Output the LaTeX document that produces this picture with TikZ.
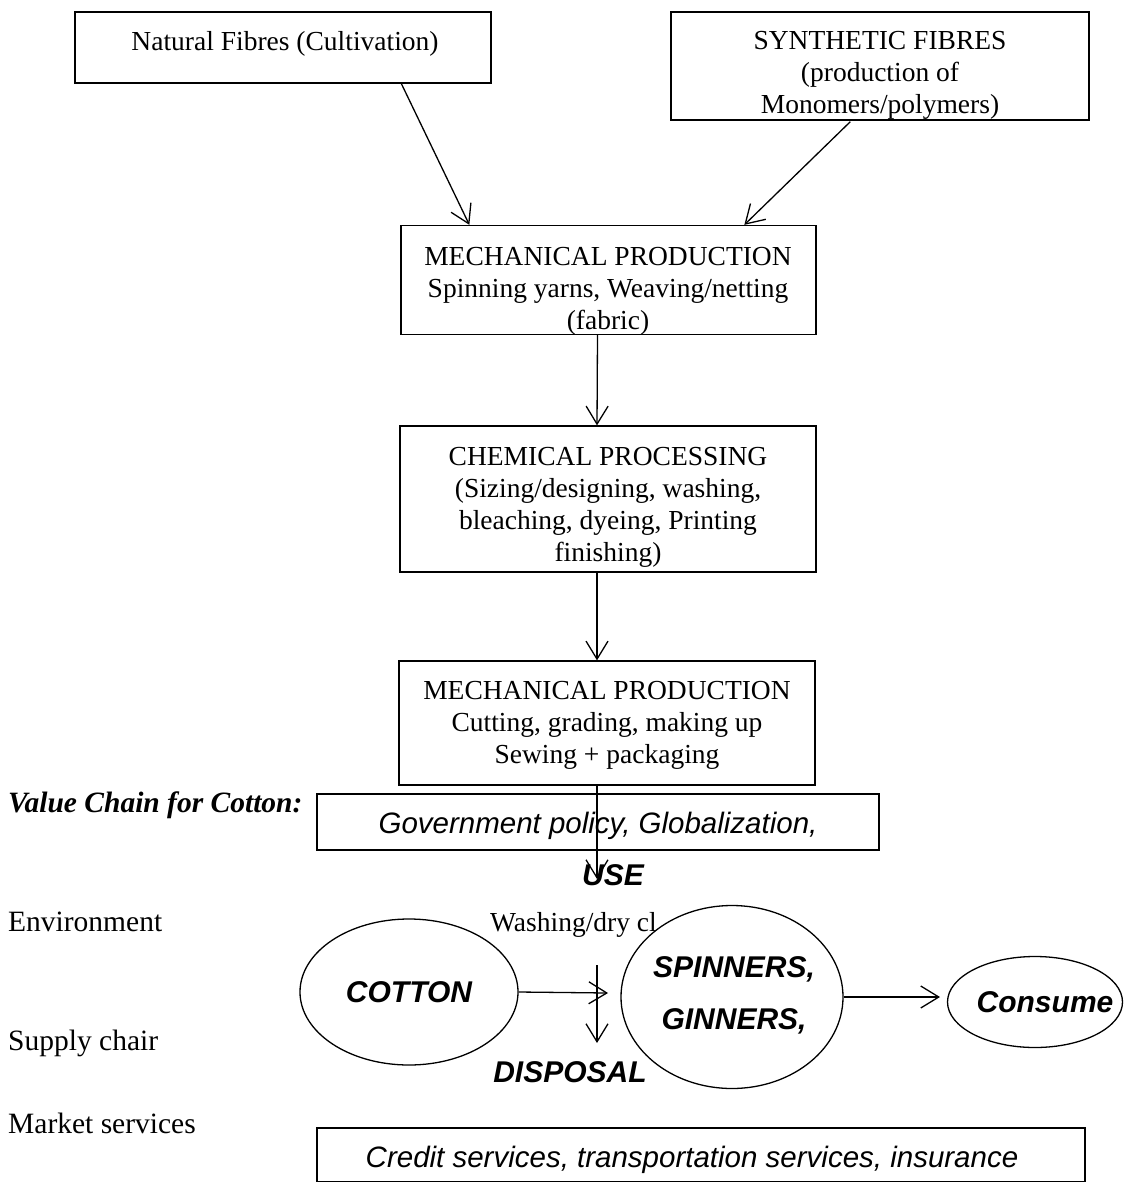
\documentclass[tikz,border=0pt]{standalone}
\usepackage{fontspec}
\setmainfont{Liberation Serif}
\setsansfont{Liberation Sans}
\usetikzlibrary{arrows.meta,calc,shapes.geometric}
\tikzset{
  box/.style={draw, line width=1.3pt, inner sep=0pt},
  txt/.style={inner sep=0pt, align=center, font=\fontsize{27.5}{32}\selectfont},
  oval/.style={draw, ellipse, line width=1.3pt, inner sep=0pt, fill=white},
  otxt/.style={inner sep=0pt, align=center, font=\sffamily\bfseries\itshape\fontsize{30}{36}\selectfont},
  arr/.style={line width=1.3pt, -{Straight Barb[length=18pt,width=22pt,line width=1.3pt]}},
  lbl/.style={inner sep=0pt, anchor=west, font=\fontsize{29.5}{32}\selectfont},
  stxt/.style={inner sep=0pt, font=\sffamily\itshape\fontsize{29.5}{32}\selectfont},
  bsi/.style={inner sep=0pt, font=\sffamily\bfseries\itshape\fontsize{30}{32}\selectfont}
}
\begin{document}
\begin{tikzpicture}[x=1pt,y=-1pt]
\useasboundingbox (0,0) rectangle (1132,1182);
% top boxes
\node[box, minimum width=416pt, minimum height=71pt] (nat) at (283,47.5) {};
\node[txt] (natt) at (285,44) {Natural Fibres (Cultivation)};
\node[box, minimum width=418pt, minimum height=108pt] (syn) at (880,66) {};
\node[txt] (synt) at (880,75) {SYNTHETIC FIBRES\\(production of\\Monomers/polymers)};
\node[box, minimum width=415pt, minimum height=109pt] (mech1) at (608.5,280) {};
\node[txt] (mech1t) at (608,291) {MECHANICAL PRODUCTION\\Spinning yarns, Weaving/netting\\(fabric)};
\node[box, minimum width=416pt, minimum height=146pt] (chem) at (608,499) {};
\node[txt] (chemt) at (608,507) {CHEMICAL PROCESSING\\(Sizing/designing, washing,\\bleaching, dyeing, Printing\\finishing)};
\node[box, minimum width=416pt, minimum height=124pt] (mech2) at (607,723) {};
\node[txt] (mech2t) at (607,725) {MECHANICAL PRODUCTION\\Cutting, grading, making up\\Sewing + packaging};
\draw[arr] ($(nat.south west)+(327,0)$) -- ($(mech1.north west)+(69,0)$);
\draw[arr] ($(syn.south west)+(180,1)$) -- ($(mech1.north west)+(344,0)$);
\draw[arr] ($(mech1.south)+(-11,0)$) -- ($(chem.north)+(-11,0)$);
\draw[arr] ($(chem.south)+(-11,0)$) -- ($(mech2.north)+(-10,0)$);
% value chain
\node[inner sep=0pt, anchor=west, font=\bfseries\itshape\fontsize{29.5}{32}\selectfont] (vc) at (8,805) {Value Chain for Cotton:};
\node[box, minimum width=562pt, minimum height=56pt] (gov) at (598,822) {};
\node[stxt] (govt) at (598,826) {Government policy, Globalization,};
\coordinate (usetip) at (597,879);
\draw[arr] ($(mech2.south)+(-10,0)$) -- (usetip);
\node[bsi] (use) at (613,875) {USE};
\node[lbl] (env) at (8,922) {Environment};
\node[lbl] (sup) at (8,1043) {Supply chair};
\node[lbl] (mkt) at (8,1123) {Market services};
\node[inner sep=0pt, anchor=west, font=\fontsize{27.5}{32}\selectfont] (wash) at (490,925) {Washing/dry cl};
\node[oval, minimum width=218pt, minimum height=146pt] (cot) at (409,992) {};
\node[otxt] (cott) at (409,992) {COTTON};
\node[oval, minimum width=222pt, minimum height=183pt] (spin) at (732,997) {};
\node[otxt] (spint) at (734,995) {SPINNERS,\\[16pt]GINNERS,};
\node[oval, minimum width=175pt, minimum height=91pt] (con) at (1035,1002) {};
\node[otxt] (cont) at (1045,1002) {Consume};
\coordinate (ct) at (608,993);
\draw[arr] (cot.east) -- (ct);
\coordinate (st) at (940,997);
\draw[arr] (spin.east) -- (st);
\coordinate (ds) at (597,965);
\coordinate (dt) at (597,1043);
\draw[arr] (ds) -- (dt);
\node[bsi] (disp) at (570,1072) {DISPOSAL};
\node[box, minimum width=768pt, minimum height=54pt] (cred) at (701,1155) {};
\node[stxt] (credt) at (692,1160) {Credit services, transportation services, insurance};
\end{tikzpicture}
\end{document}
